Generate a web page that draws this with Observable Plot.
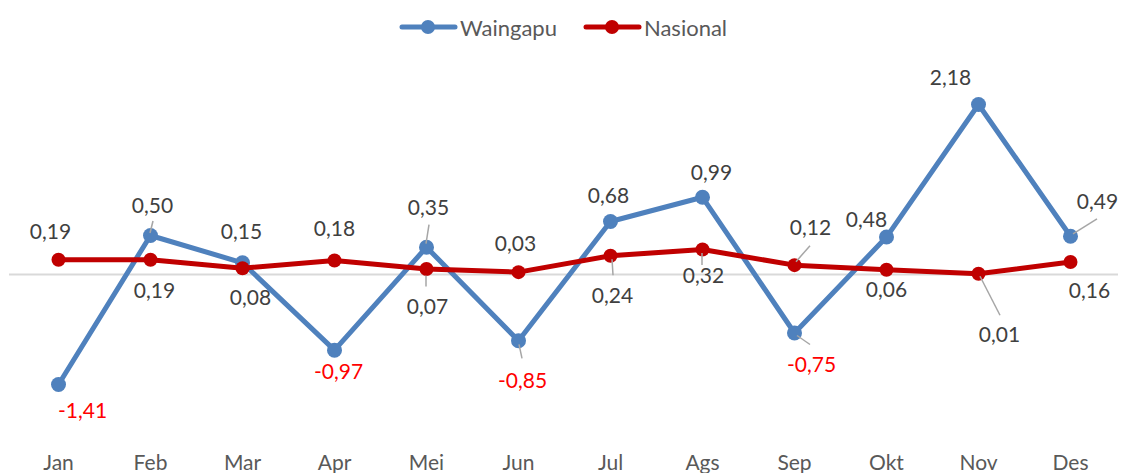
<!DOCTYPE html>
<html>
<head>
<meta charset="utf-8">
<script src="https://cdn.jsdelivr.net/npm/d3@7"></script>
<script src="https://cdn.jsdelivr.net/npm/@observablehq/plot@0.6"></script>
<style>
  body { margin: 0; background: #fff; font-family: Lato, "Open Sans", sans-serif; }
  #legend { height: 50px; display: flex; justify-content: center; align-items: center; padding-left: 4px; padding-top: 4px; box-sizing: border-box; }
  .item { display: flex; align-items: center; margin: 0 13px; font-size: 22px; color: #595959; }
  .item svg { margin-right: 2px; }
</style>
</head>
<body>
<div id="legend"></div>
<div id="chart"></div>
<script>
// ---- data ----
const months = ["Jan","Feb","Mar","Apr","Mei","Jun","Jul","Ags","Sep","Okt","Nov","Des"];
const waingapu = [-1.41, 0.50, 0.15, -0.97, 0.35, -0.85, 0.68, 0.99, -0.75, 0.48, 2.18, 0.49];
const nasional = [0.19, 0.19, 0.08, 0.18, 0.07, 0.03, 0.24, 0.32, 0.12, 0.06, 0.01, 0.16];
const seriesNames = ["Waingapu", "Nasional"];

// ---- styling / label placement (pixel offsets from the point) ----
const colors = ["#4f81bd", "#c00000"];
const labelOffW = [[24,27],[2,-29],[-1,-31],[4,22],[2,-39],[4,40],[-2,-25],[9,-24],[17,32],[-20,-17],[-28,-26],[27,-34]];
const labelOffN = [[-8,-27],[4,32],[8,30],[0,-31],[1,38],[-3,-28],[2,40],[1,27],[16,-37],[0,20],[21,62],[19,29]];
// [seriesIndex, monthIndex, x0, y0, x1, y1]
const leaders = [
  [0,1,0,-2,3,-14],[0,4,0,-3,3,-22],[1,4,0,7,0,18],[0,5,1,4,4,18],
  [1,6,2,4,3,20],[1,7,0,4,0,16],[1,8,2,-3,16,-19],[0,8,3,3,16,12],
  [1,10,2,3,22,42],[0,11,3,-2,27,-17]
];

const seriesValues = [waingapu, nasional];
const rows = seriesValues.map(vals => months.map((m, i) => ({month: m, value: vals[i], i})));
const fmt = v => v.toFixed(2).replace(".", ",");

// legend
const legend = d3.select("#legend");
seriesNames.forEach((name, k) => {
  const it = legend.append("div").attr("class", "item");
  const s = it.append("svg").attr("width", 59).attr("height", 20);
  s.append("line").attr("x1", 3).attr("x2", 56).attr("y1", 10).attr("y2", 10)
    .attr("stroke", colors[k]).attr("stroke-width", 5).attr("stroke-linecap", "round");
  s.append("circle").attr("cx", 29).attr("cy", 10).attr("r", 7).attr("fill", colors[k]);
  it.append("span").text(name);
});

const labelMarks = [];
[labelOffW, labelOffN].forEach((offs, k) => {
  rows[k].forEach((d, i) => {
    labelMarks.push(Plot.text([d], {
      x: "month", y: "value", text: r => fmt(r.value),
      dx: offs[i][0], dy: offs[i][1],
      fontSize: 21, fontFamily: "Lato",
      fill: d.value < 0 ? "#ff0000" : "#404040"
    }));
  });
});

const leaderMark = (index, scales) => {
  const g = d3.create("svg:g").attr("stroke", "#a6a6a6").attr("stroke-width", 1.5);
  leaders.forEach(([k, i, x0, y0, x1, y1]) => {
    const px = scales.x(months[i]);
    const py = scales.y(seriesValues[k][i]);
    g.append("line").attr("x1", px + x0).attr("y1", py + y0).attr("x2", px + x1).attr("y2", py + y1);
  });
  return g.node();
};

const chart = Plot.plot({
  width: 1122,
  height: 423,
  marginLeft: 9,
  marginRight: 4,
  marginTop: 29,
  marginBottom: 43,
  style: { fontFamily: "Lato", fontSize: "21px", color: "#595959", background: "#fff", overflow: "visible" },
  x: { type: "point", domain: months, padding: 0.5, tickSize: 0, tickPadding: 25, label: null },
  y: { domain: [-2, 2.5], axis: null },
  marks: [
    Plot.ruleY([0], { stroke: "#d9d9d9", strokeWidth: 2 }),
    Plot.line(rows[0], { x: "month", y: "value", stroke: colors[0], strokeWidth: 5, strokeLinejoin: "round" }),
    Plot.dot(rows[0], { x: "month", y: "value", fill: colors[0], r: 7.5 }),
    Plot.line(rows[1], { x: "month", y: "value", stroke: colors[1], strokeWidth: 5, strokeLinejoin: "round" }),
    Plot.dot(rows[1], { x: "month", y: "value", fill: colors[1], r: 7 }),
    leaderMark,
    ...labelMarks
  ]
});
document.getElementById("chart").appendChild(chart);
</script>
</body>
</html>
